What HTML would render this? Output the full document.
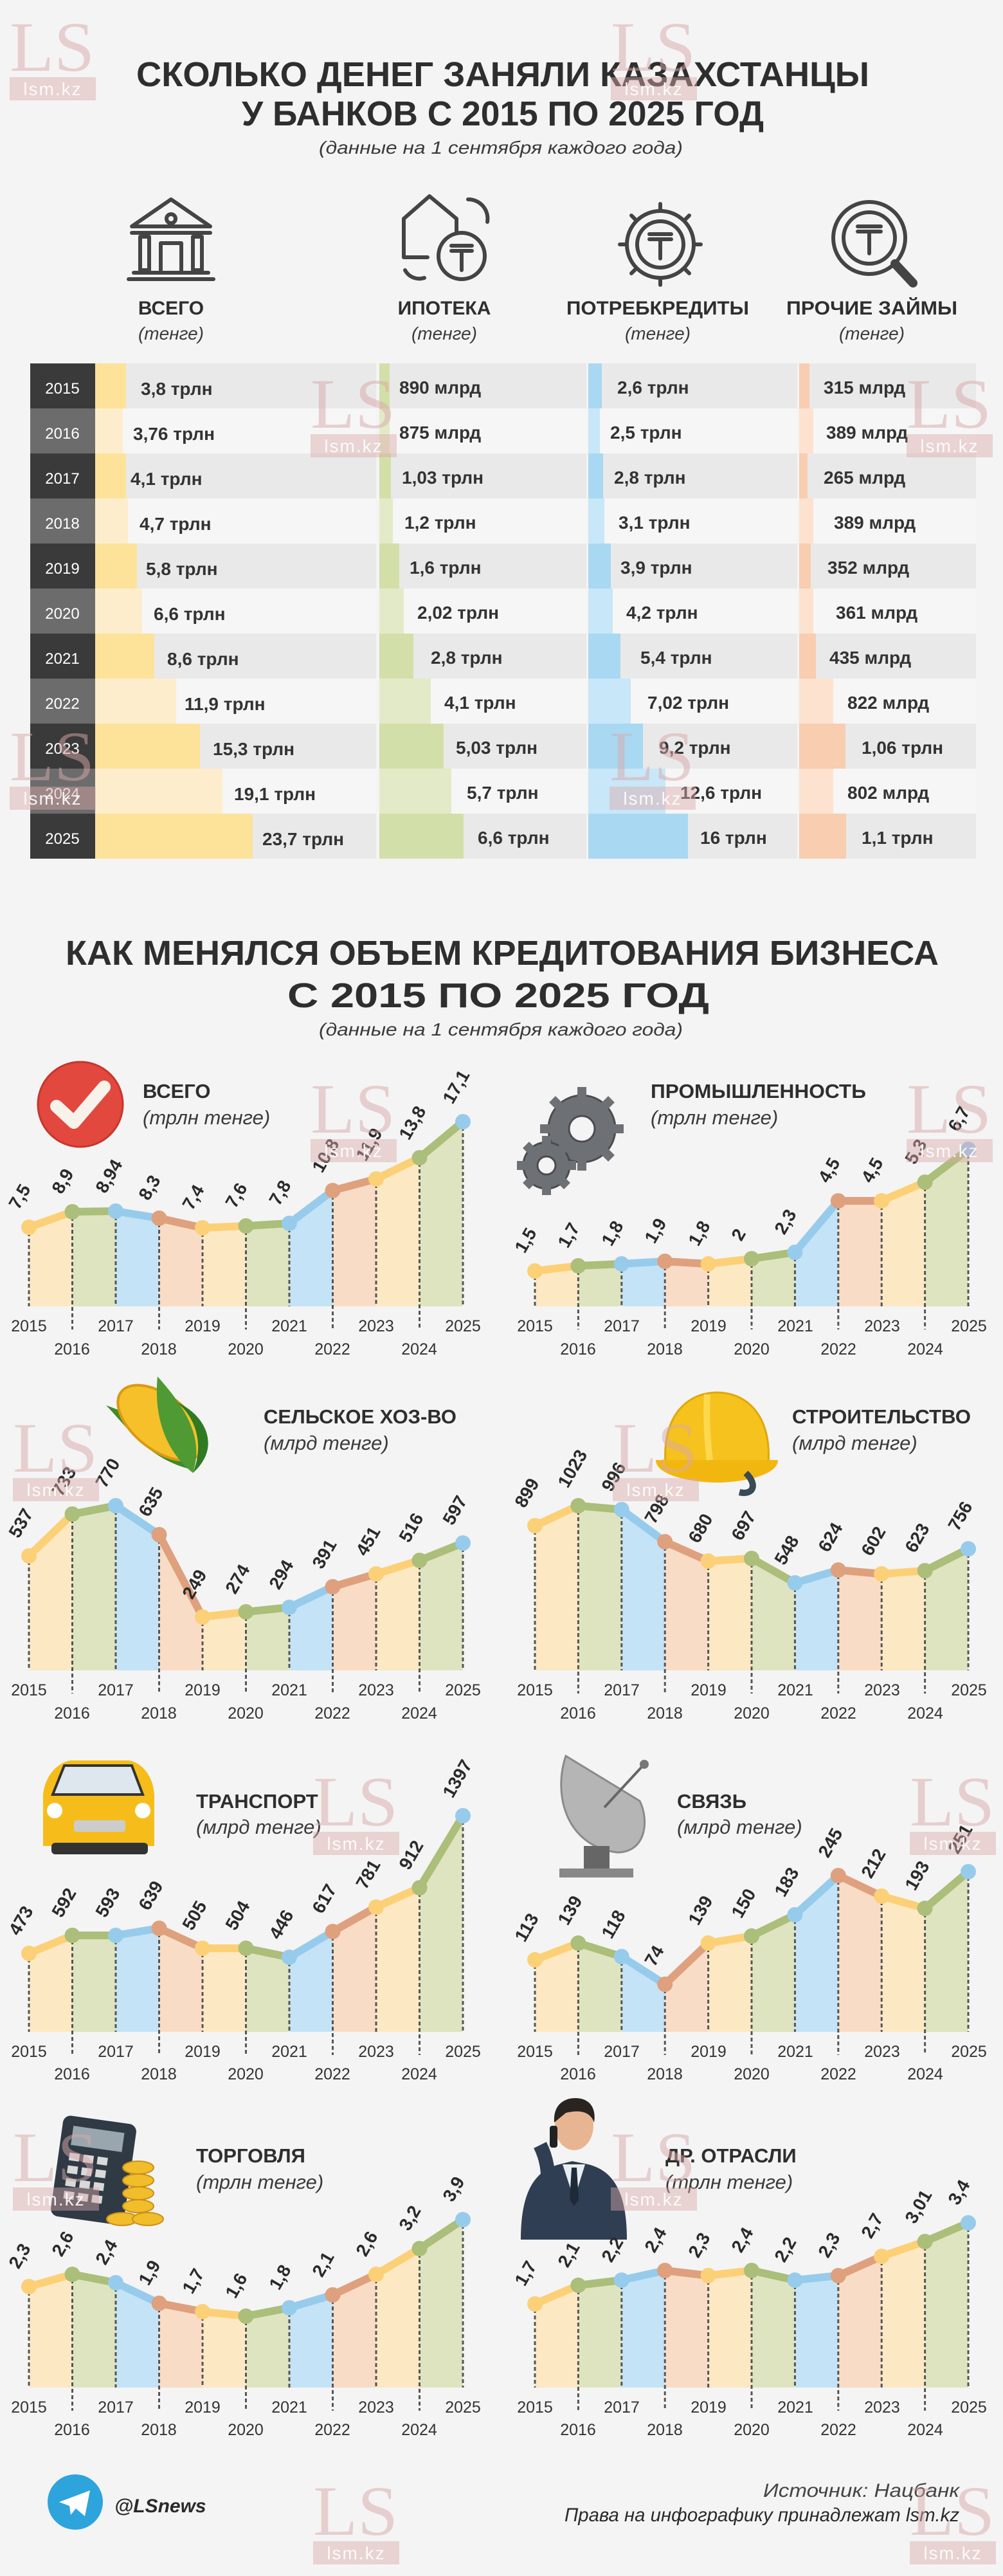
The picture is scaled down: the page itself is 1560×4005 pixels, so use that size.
<!DOCTYPE html>
<html><head><meta charset="utf-8">
<style>
html,body{margin:0;padding:0;background:#f4f4f4;}
svg{display:block;font-family:"Liberation Sans","DejaVu Sans",sans-serif;}
.t{font-weight:bold;fill:#2e2e2e;}
.it{font-style:italic;fill:#3a3a3a;}
.yr{font-size:25px;fill:#333;}
.lb{font-size:28px;font-weight:bold;fill:#2a2a2a;}
.tv{font-size:28px;font-weight:bold;fill:#333;}
.ty{font-size:24px;fill:#fff;}
.wmL{font-family:"Liberation Serif",serif;font-size:110px;fill:#d9a9a9;opacity:.5;}
.wmS{font-size:28px;fill:#fff;opacity:.9;letter-spacing:2px;}
.ic{fill:none;stroke:#444;stroke-width:6;stroke-linejoin:round;stroke-linecap:round;}
</style></head><body>
<svg id="s" width="1560" height="4005" viewBox="0 0 1560 4005" xmlns="http://www.w3.org/2000/svg">
<rect width="1560" height="4005" fill="#f4f4f4"/>

<text class="t" x="782" y="134" font-size="54" text-anchor="middle" textLength="1140" lengthAdjust="spacingAndGlyphs">СКОЛЬКО ДЕНЕГ ЗАНЯЛИ КАЗАХСТАНЦЫ</text>
<text class="t" x="782" y="195" font-size="54" text-anchor="middle" textLength="812" lengthAdjust="spacingAndGlyphs">У БАНКОВ С 2015 ПО 2025 ГОД</text>
<text class="it" x="779" y="239" font-size="28" text-anchor="middle" textLength="566" lengthAdjust="spacingAndGlyphs">(данные на 1 сентября каждого года)</text>

<g class="ic">
 <path d="M205 352 L266 310 L327 352 Z"/><line x1="205" y1="362" x2="327" y2="362"/>
 <circle cx="266" cy="340" r="7"/>
 <rect x="218" y="368" width="14" height="52"/><rect x="300" y="368" width="14" height="52"/>
 <path d="M250 420 V378 H282 V420"/>
 <line x1="208" y1="424" x2="324" y2="424"/><line x1="200" y1="434" x2="332" y2="434"/>
</g>
<g class="ic">
 <path d="M628 370 V340 L668 305 L710 340 V360"/><path d="M628 370 V400 H665"/>
 <circle cx="718" cy="398" r="36"/><path d="M702 382 H734 M702 390 H734 M718 390 V420"/>
 <path d="M728 310 A30 30 0 0 1 758 345"/><path d="M630 420 A25 25 0 0 0 660 432"/>
</g>
<g class="ic">
 <circle cx="1027" cy="380" r="52"/><circle cx="1027" cy="380" r="36"/>
 <path d="M1010 364 H1044 M1010 372 H1044 M1027 372 V402"/>
 <path d="M1027 317 V328 M1027 432 V443 M964 380 H975 M1079 380 H1090 M982 335 L990 343 M1064 417 L1072 425 M1072 335 L1064 343 M990 417 L982 425"/>
</g>
<g class="ic">
 <circle cx="1352" cy="370" r="56"/><circle cx="1352" cy="370" r="40"/>
 <path d="M1334 352 H1370 M1334 360 H1370 M1352 360 V394"/>
 <path d="M1392 410 L1420 440" stroke-width="14"/>
</g>
<g class="t" font-size="30" text-anchor="middle">
 <text x="266" y="489">ВСЕГО</text><text x="691" y="489">ИПОТЕКА</text>
 <text x="1023" y="489" textLength="284" lengthAdjust="spacingAndGlyphs">ПОТРЕБКРЕДИТЫ</text>
 <text x="1356" y="489" textLength="266" lengthAdjust="spacingAndGlyphs">ПРОЧИЕ ЗАЙМЫ</text>
</g>
<g class="it" font-size="28" text-anchor="middle">
 <text x="266" y="528">(тенге)</text><text x="691" y="528">(тенге)</text><text x="1023" y="528">(тенге)</text><text x="1356" y="528">(тенге)</text>
</g>

<g id="table"></g>
<g id="tabletext">
 <g class="ty" text-anchor="middle">
  <text x="97" y="612">2015</text><text x="97" y="682">2016</text><text x="97" y="752">2017</text><text x="97" y="822">2018</text><text x="97" y="892">2019</text><text x="97" y="962">2020</text><text x="97" y="1032">2021</text><text x="97" y="1102">2022</text><text x="97" y="1172">2023</text><text x="97" y="1242">2024</text><text x="97" y="1312">2025</text>
 </g>
 <g class="tv">
  <text x="219" y="614">3,8 трлн</text><text x="207" y="684">3,76 трлн</text><text x="203" y="754">4,1 трлн</text><text x="217" y="824">4,7 трлн</text><text x="227" y="894">5,8 трлн</text><text x="239" y="964">6,6 трлн</text><text x="260" y="1034">8,6 трлн</text><text x="287" y="1104">11,9 трлн</text><text x="331" y="1174">15,3 трлн</text><text x="364" y="1244">19,1 трлн</text><text x="408" y="1314">23,7 трлн</text>
  <text x="621" y="612">890 млрд</text><text x="621" y="682">875 млрд</text><text x="625" y="752">1,03 трлн</text><text x="629" y="822">1,2 трлн</text><text x="637" y="892">1,6 трлн</text><text x="649" y="962">2,02 трлн</text><text x="670" y="1032">2,8 трлн</text><text x="691" y="1102">4,1 трлн</text><text x="709" y="1172">5,03 трлн</text><text x="726" y="1242">5,7 трлн</text><text x="743" y="1312">6,6 трлн</text>
  <text x="960" y="612">2,6 трлн</text><text x="949" y="682">2,5 трлн</text><text x="955" y="752">2,8 трлн</text><text x="962" y="822">3,1 трлн</text><text x="965" y="892">3,9 трлн</text><text x="974" y="962">4,2 трлн</text><text x="996" y="1032">5,4 трлн</text><text x="1007" y="1102">7,02 трлн</text><text x="1025" y="1172">9,2 трлн</text><text x="1058" y="1242">12,6 трлн</text><text x="1089" y="1312">16 трлн</text>
  <text x="1281" y="612">315 млрд</text><text x="1285" y="682">389 млрд</text><text x="1281" y="752">265 млрд</text><text x="1297" y="822">389 млрд</text><text x="1287" y="892">352 млрд</text><text x="1300" y="962">361 млрд</text><text x="1290" y="1032">435 млрд</text><text x="1318" y="1102">822 млрд</text><text x="1340" y="1172">1,06 трлн</text><text x="1318" y="1242">802 млрд</text><text x="1340" y="1312">1,1 трлн</text>
 </g>
</g>

<text class="t" x="781" y="1500" font-size="54" text-anchor="middle" textLength="1358" lengthAdjust="spacingAndGlyphs">КАК МЕНЯЛСЯ ОБЪЕМ КРЕДИТОВАНИЯ БИЗНЕСА</text>
<text class="t" x="775" y="1566" font-size="54" text-anchor="middle" textLength="656" lengthAdjust="spacingAndGlyphs">С 2015 ПО 2025 ГОД</text>
<text class="it" x="779" y="1610" font-size="28" text-anchor="middle" textLength="566" lengthAdjust="spacingAndGlyphs">(данные на 1 сентября каждого года)</text>

<g id="charts"></g>

<circle cx="125" cy="1717" r="66" fill="#e2483d"/><circle cx="125" cy="1717" r="66" fill="none" stroke="#c7362d" stroke-width="3"/>
<path d="M88 1720 L115 1745 L162 1690" fill="none" stroke="#f7f2ea" stroke-width="20" stroke-linecap="round" stroke-linejoin="round"/>

<g fill="#6d7074" stroke="#4a4c50" stroke-width="3">
 <circle cx="905" cy="1755" r="52"/><circle cx="850" cy="1812" r="36"/>
 <g stroke-width="14" stroke-linecap="butt" stroke="#6d7074">
  <path d="M905 1690 V1820 M840 1755 H970 M859 1709 L951 1801 M951 1709 L859 1801"/>
  <path d="M850 1766 V1858 M804 1812 H896 M818 1780 L882 1844 M882 1780 L818 1844"/>
 </g>
 <circle cx="905" cy="1755" r="20" fill="#f4f4f4"/><circle cx="850" cy="1812" r="14" fill="#f4f4f4"/>
</g>

<g>
 <path d="M300 2285 C230 2270 195 2215 165 2185 C210 2200 260 2230 300 2285Z" fill="#3f8a2a"/>
 <ellipse cx="250" cy="2212" rx="78" ry="42" transform="rotate(38 250 2212)" fill="#f5c02a" stroke="#d99a10" stroke-width="4"/>
 <path d="M300 2290 C250 2250 240 2190 245 2140 C280 2180 320 2230 300 2290Z" fill="#4f9a33"/>
 <path d="M300 2290 C320 2240 300 2200 275 2180 C320 2200 345 2250 300 2290Z" fill="#2f7a22"/>
</g>

<g>
 <path d="M1035 2275 C1030 2200 1070 2165 1115 2165 C1165 2165 1200 2205 1195 2275 Z" fill="#f6c21d" stroke="#e0a80a" stroke-width="3"/>
 <path d="M1020 2270 H1210 C1210 2295 1150 2305 1115 2305 C1080 2305 1020 2295 1020 2270Z" fill="#f2b70f"/>
 <path d="M1100 2168 C1098 2200 1100 2240 1104 2270" stroke="#ffd84d" stroke-width="10" fill="none"/>
 <path d="M1160 2290 C1180 2310 1170 2325 1150 2320" stroke="#3a4a55" stroke-width="10" fill="none"/>
</g>

<g>
 <path d="M67 2790 C70 2760 90 2740 110 2737 H200 C220 2740 238 2760 240 2790 V2870 H67 Z" fill="#f6bd1a"/>
 <path d="M100 2745 H205 L222 2790 H82 Z" fill="#dfe7ee" stroke="#333" stroke-width="4"/>
 <rect x="115" y="2830" width="80" height="18" rx="4" fill="#ccc"/>
 <rect x="80" y="2865" width="150" height="18" rx="6" fill="#333"/>
 <circle cx="85" cy="2815" r="12" fill="#fff"/><circle cx="222" cy="2815" r="12" fill="#fff"/>
</g>

<g>
 <path d="M880 2730 C860 2790 880 2870 960 2880 C1005 2880 1010 2830 995 2800 Z" fill="#b5b5b5" stroke="#8a8a8a" stroke-width="3"/>
 <line x1="940" y1="2810" x2="1000" y2="2745" stroke="#666" stroke-width="4"/><circle cx="1002" cy="2743" r="7" fill="#777"/>
 <rect x="908" y="2870" width="40" height="45" fill="#666"/><rect x="870" y="2905" width="115" height="14" fill="#888"/>
</g>

<g>
 <rect x="88" y="3295" width="115" height="158" rx="12" fill="#2f3a45" transform="rotate(8 145 3374)"/>
 <rect x="105" y="3310" width="80" height="30" fill="#9aa6ad" transform="rotate(8 145 3374)"/>
 <g fill="#d9d9d9" transform="rotate(8 145 3374)">
  <rect x="105" y="3352" width="16" height="12"/><rect x="127" y="3352" width="16" height="12"/><rect x="149" y="3352" width="16" height="12"/>
  <rect x="105" y="3372" width="16" height="12"/><rect x="127" y="3372" width="16" height="12"/><rect x="149" y="3372" width="16" height="12"/>
  <rect x="105" y="3392" width="16" height="12"/><rect x="127" y="3392" width="16" height="12"/><rect x="149" y="3392" width="16" height="12"/>
  <rect x="105" y="3412" width="16" height="12"/><rect x="127" y="3412" width="16" height="12"/><rect x="149" y="3412" width="16" height="12"/>
 </g>
 <g fill="#f2bd2a" stroke="#c9901a" stroke-width="2">
  <ellipse cx="190" cy="3450" rx="24" ry="10"/><ellipse cx="215" cy="3430" rx="24" ry="10"/><ellipse cx="215" cy="3410" rx="24" ry="10"/><ellipse cx="215" cy="3390" rx="24" ry="10"/><ellipse cx="215" cy="3370" rx="24" ry="10"/><ellipse cx="230" cy="3450" rx="24" ry="10"/>
 </g>
</g>

<g>
 <path d="M810 3482 C810 3410 830 3375 870 3365 L890 3360 L915 3365 C955 3375 975 3410 975 3482 Z" fill="#2f3e52"/>
 <path d="M875 3365 L893 3420 L910 3365 Z" fill="#e8eef2"/><path d="M889 3370 L897 3370 L900 3420 L893 3430 L886 3420 Z" fill="#1f2a38"/>
 <ellipse cx="893" cy="3305" rx="30" ry="38" fill="#e8b592"/>
 <path d="M862 3300 C860 3270 880 3262 895 3262 C915 3262 928 3275 924 3300 C918 3282 900 3280 880 3285 Z" fill="#2a2420"/>
 <rect x="855" y="3305" width="12" height="34" rx="4" fill="#222"/>
 <path d="M840 3335 C850 3355 855 3380 850 3400" stroke="#2f3e52" stroke-width="22" fill="none"/>
</g>

<circle cx="117" cy="3890" r="43" fill="#2ea4dd"/>
<path d="M92 3890 L140 3872 L132 3912 L118 3900 L110 3910 L108 3896 Z" fill="#fff"/>
<text x="178" y="3906" font-size="30" font-weight="bold" font-style="italic" fill="#2a2a2a">@LSnews</text>
<text x="1492" y="3882" font-size="30" font-style="italic" fill="#444" text-anchor="end" textLength="305" lengthAdjust="spacingAndGlyphs">Источник: Нацбанк</text>
<text x="1492" y="3920" font-size="30" font-style="italic" fill="#2a2a2a" text-anchor="end" textLength="614" lengthAdjust="spacingAndGlyphs">Права на инфографику принадлежат lsm.kz</text>

<g font-size="31">
 <text class="t" x="222" y="1707">ВСЕГО</text><text class="it" x="222" y="1748">(трлн тенге)</text>
 <text class="t" x="1012" y="1707" textLength="335" lengthAdjust="spacingAndGlyphs">ПРОМЫШЛЕННОСТЬ</text><text class="it" x="1012" y="1748">(трлн тенге)</text>
 <text class="t" x="410" y="2213" textLength="300" lengthAdjust="spacingAndGlyphs">СЕЛЬСКОЕ ХОЗ-ВО</text><text class="it" x="410" y="2254">(млрд тенге)</text>
 <text class="t" x="1232" y="2213" textLength="278" lengthAdjust="spacingAndGlyphs">СТРОИТЕЛЬСТВО</text><text class="it" x="1232" y="2254">(млрд тенге)</text>
 <text class="t" x="305" y="2811">ТРАНСПОРТ</text><text class="it" x="305" y="2851">(млрд тенге)</text>
 <text class="t" x="1053" y="2811">СВЯЗЬ</text><text class="it" x="1053" y="2851">(млрд тенге)</text>
 <text class="t" x="305" y="3362">ТОРГОВЛЯ</text><text class="it" x="305" y="3403">(трлн тенге)</text>
 <text class="t" x="1035" y="3362">ДР. ОТРАСЛИ</text><text class="it" x="1035" y="3403">(трлн тенге)</text>
</g>

<g class="yr" text-anchor="middle">
 <g transform="translate(0,2070)"><text x="45">2015</text><text x="180">2017</text><text x="315">2019</text><text x="450">2021</text><text x="585">2023</text><text x="720">2025</text><text x="112" y="36">2016</text><text x="247" y="36">2018</text><text x="382" y="36">2020</text><text x="517" y="36">2022</text><text x="652" y="36">2024</text></g>
 <g transform="translate(787,2070)"><text x="45">2015</text><text x="180">2017</text><text x="315">2019</text><text x="450">2021</text><text x="585">2023</text><text x="720">2025</text><text x="112" y="36">2016</text><text x="247" y="36">2018</text><text x="382" y="36">2020</text><text x="517" y="36">2022</text><text x="652" y="36">2024</text></g>
 <g transform="translate(0,2636)"><text x="45">2015</text><text x="180">2017</text><text x="315">2019</text><text x="450">2021</text><text x="585">2023</text><text x="720">2025</text><text x="112" y="36">2016</text><text x="247" y="36">2018</text><text x="382" y="36">2020</text><text x="517" y="36">2022</text><text x="652" y="36">2024</text></g>
 <g transform="translate(787,2636)"><text x="45">2015</text><text x="180">2017</text><text x="315">2019</text><text x="450">2021</text><text x="585">2023</text><text x="720">2025</text><text x="112" y="36">2016</text><text x="247" y="36">2018</text><text x="382" y="36">2020</text><text x="517" y="36">2022</text><text x="652" y="36">2024</text></g>
 <g transform="translate(0,3198)"><text x="45">2015</text><text x="180">2017</text><text x="315">2019</text><text x="450">2021</text><text x="585">2023</text><text x="720">2025</text><text x="112" y="35">2016</text><text x="247" y="35">2018</text><text x="382" y="35">2020</text><text x="517" y="35">2022</text><text x="652" y="35">2024</text></g>
 <g transform="translate(787,3198)"><text x="45">2015</text><text x="180">2017</text><text x="315">2019</text><text x="450">2021</text><text x="585">2023</text><text x="720">2025</text><text x="112" y="35">2016</text><text x="247" y="35">2018</text><text x="382" y="35">2020</text><text x="517" y="35">2022</text><text x="652" y="35">2024</text></g>
 <g transform="translate(0,3751)"><text x="45">2015</text><text x="180">2017</text><text x="315">2019</text><text x="450">2021</text><text x="585">2023</text><text x="720">2025</text><text x="112" y="35">2016</text><text x="247" y="35">2018</text><text x="382" y="35">2020</text><text x="517" y="35">2022</text><text x="652" y="35">2024</text></g>
 <g transform="translate(787,3751)"><text x="45">2015</text><text x="180">2017</text><text x="315">2019</text><text x="450">2021</text><text x="585">2023</text><text x="720">2025</text><text x="112" y="35">2016</text><text x="247" y="35">2018</text><text x="382" y="35">2020</text><text x="517" y="35">2022</text><text x="652" y="35">2024</text></g>
</g>

<g class="lb">
 <text transform="translate(29 1882) rotate(-60)">7,5</text><text transform="translate(96 1858) rotate(-60)">8,9</text><text transform="translate(164 1857) rotate(-60)">8,94</text><text transform="translate(231 1868) rotate(-60)">8,3</text><text transform="translate(299 1883) rotate(-60)">7,4</text><text transform="translate(366 1880) rotate(-60)">7,6</text><text transform="translate(434 1876) rotate(-60)">7,8</text><text transform="translate(501 1825) rotate(-60)">10,8</text><text transform="translate(569 1807) rotate(-60)">11,9</text><text transform="translate(636 1774) rotate(-60)">13,8</text><text transform="translate(704 1718) rotate(-60)">17,1</text>
 <text transform="translate(816 1950) rotate(-60)">1,5</text><text transform="translate(883 1942) rotate(-60)">1,7</text><text transform="translate(951 1939) rotate(-60)">1,8</text><text transform="translate(1018 1935) rotate(-60)">1,9</text><text transform="translate(1086 1939) rotate(-60)">1,8</text><text transform="translate(1153 1931) rotate(-60)">2</text><text transform="translate(1220 1921) rotate(-60)">2,3</text><text transform="translate(1288 1841) rotate(-60)">4,5</text><text transform="translate(1355 1841) rotate(-60)">4,5</text><text transform="translate(1423 1812) rotate(-60)">5,3</text><text transform="translate(1490 1761) rotate(-60)">6,7</text>
 <text transform="translate(29 2393) rotate(-60)">537</text><text transform="translate(96 2328) rotate(-60)">733</text><text transform="translate(164 2315) rotate(-60)">770</text><text transform="translate(231 2360) rotate(-60)">635</text><text transform="translate(299 2488) rotate(-60)">249</text><text transform="translate(366 2480) rotate(-60)">274</text><text transform="translate(434 2473) rotate(-60)">294</text><text transform="translate(501 2441) rotate(-60)">391</text><text transform="translate(569 2421) rotate(-60)">451</text><text transform="translate(636 2400) rotate(-60)">516</text><text transform="translate(704 2373) rotate(-60)">597</text>
 <text transform="translate(816 2346) rotate(-60)">899</text><text transform="translate(883 2315) rotate(-60)">1023</text><text transform="translate(951 2321) rotate(-60)">996</text><text transform="translate(1018 2371) rotate(-60)">798</text><text transform="translate(1086 2401) rotate(-60)">680</text><text transform="translate(1153 2397) rotate(-60)">697</text><text transform="translate(1220 2435) rotate(-60)">548</text><text transform="translate(1288 2415) rotate(-60)">624</text><text transform="translate(1355 2421) rotate(-60)">602</text><text transform="translate(1423 2416) rotate(-60)">623</text><text transform="translate(1490 2382) rotate(-60)">756</text>
 <text transform="translate(29 3011) rotate(-60)">473</text><text transform="translate(96 2983) rotate(-60)">592</text><text transform="translate(164 2983) rotate(-60)">593</text><text transform="translate(231 2972) rotate(-60)">639</text><text transform="translate(299 3003) rotate(-60)">505</text><text transform="translate(366 3003) rotate(-60)">504</text><text transform="translate(434 3017) rotate(-60)">446</text><text transform="translate(501 2977) rotate(-60)">617</text><text transform="translate(569 2939) rotate(-60)">781</text><text transform="translate(636 2909) rotate(-60)">912</text><text transform="translate(704 2797) rotate(-60)">1397</text>
 <text transform="translate(816 3021) rotate(-60)">113</text><text transform="translate(883 2995) rotate(-60)">139</text><text transform="translate(951 3016) rotate(-60)">118</text><text transform="translate(1018 3059) rotate(-60)">74</text><text transform="translate(1086 2995) rotate(-60)">139</text><text transform="translate(1153 2984) rotate(-60)">150</text><text transform="translate(1220 2951) rotate(-60)">183</text><text transform="translate(1288 2890) rotate(-60)">245</text><text transform="translate(1355 2922) rotate(-60)">212</text><text transform="translate(1423 2941) rotate(-60)">193</text><text transform="translate(1490 2884) rotate(-60)">251</text>
 <text transform="translate(29 3529) rotate(-60)">2,3</text><text transform="translate(96 3510) rotate(-60)">2,6</text><text transform="translate(164 3523) rotate(-60)">2,4</text><text transform="translate(231 3555) rotate(-60)">1,9</text><text transform="translate(299 3568) rotate(-60)">1,7</text><text transform="translate(366 3575) rotate(-60)">1,6</text><text transform="translate(434 3562) rotate(-60)">1,8</text><text transform="translate(501 3542) rotate(-60)">2,1</text><text transform="translate(569 3510) rotate(-60)">2,6</text><text transform="translate(636 3470) rotate(-60)">3,2</text><text transform="translate(704 3425) rotate(-60)">3,9</text>
 <text transform="translate(816 3556) rotate(-60)">1,7</text><text transform="translate(883 3527) rotate(-60)">2,1</text><text transform="translate(951 3519) rotate(-60)">2,2</text><text transform="translate(1018 3504) rotate(-60)">2,4</text><text transform="translate(1086 3512) rotate(-60)">2,3</text><text transform="translate(1153 3504) rotate(-60)">2,4</text><text transform="translate(1220 3519) rotate(-60)">2,2</text><text transform="translate(1288 3512) rotate(-60)">2,3</text><text transform="translate(1355 3482) rotate(-60)">2,7</text><text transform="translate(1423 3459) rotate(-60)">3,01</text><text transform="translate(1490 3430) rotate(-60)">3,4</text>
</g>

<g>
 <g transform="translate(15,22)"><text class="wmL" x="0" y="88" textLength="132" lengthAdjust="spacingAndGlyphs">LS</text><rect x="0" y="98" width="134" height="36" fill="#d9a9a9" opacity=".45"/><text class="wmS" x="67" y="126" text-anchor="middle">lsm.kz</text></g>
 <g transform="translate(950,22)"><text class="wmL" x="0" y="88" textLength="132" lengthAdjust="spacingAndGlyphs">LS</text><rect x="0" y="98" width="134" height="36" fill="#d9a9a9" opacity=".45"/><text class="wmS" x="67" y="126" text-anchor="middle">lsm.kz</text></g>
 <g transform="translate(483,577)"><text class="wmL" x="0" y="88" textLength="132" lengthAdjust="spacingAndGlyphs">LS</text><rect x="0" y="98" width="134" height="36" fill="#d9a9a9" opacity=".45"/><text class="wmS" x="67" y="126" text-anchor="middle">lsm.kz</text></g>
 <g transform="translate(1410,577)"><text class="wmL" x="0" y="88" textLength="132" lengthAdjust="spacingAndGlyphs">LS</text><rect x="0" y="98" width="134" height="36" fill="#d9a9a9" opacity=".45"/><text class="wmS" x="67" y="126" text-anchor="middle">lsm.kz</text></g>
 <g transform="translate(15,1125)"><text class="wmL" x="0" y="88" textLength="132" lengthAdjust="spacingAndGlyphs">LS</text><rect x="0" y="98" width="134" height="36" fill="#d9a9a9" opacity=".45"/><text class="wmS" x="67" y="126" text-anchor="middle">lsm.kz</text></g>
 <g transform="translate(948,1125)"><text class="wmL" x="0" y="88" textLength="132" lengthAdjust="spacingAndGlyphs">LS</text><rect x="0" y="98" width="134" height="36" fill="#d9a9a9" opacity=".45"/><text class="wmS" x="67" y="126" text-anchor="middle">lsm.kz</text></g>
 <g transform="translate(483,1673)"><text class="wmL" x="0" y="88" textLength="132" lengthAdjust="spacingAndGlyphs">LS</text><rect x="0" y="98" width="134" height="36" fill="#d9a9a9" opacity=".45"/><text class="wmS" x="67" y="126" text-anchor="middle">lsm.kz</text></g>
 <g transform="translate(1410,1673)"><text class="wmL" x="0" y="88" textLength="132" lengthAdjust="spacingAndGlyphs">LS</text><rect x="0" y="98" width="134" height="36" fill="#d9a9a9" opacity=".45"/><text class="wmS" x="67" y="126" text-anchor="middle">lsm.kz</text></g>
 <g transform="translate(20,2200)"><text class="wmL" x="0" y="88" textLength="132" lengthAdjust="spacingAndGlyphs">LS</text><rect x="0" y="98" width="134" height="36" fill="#d9a9a9" opacity=".45"/><text class="wmS" x="67" y="126" text-anchor="middle">lsm.kz</text></g>
 <g transform="translate(953,2200)"><text class="wmL" x="0" y="88" textLength="132" lengthAdjust="spacingAndGlyphs">LS</text><rect x="0" y="98" width="134" height="36" fill="#d9a9a9" opacity=".45"/><text class="wmS" x="67" y="126" text-anchor="middle">lsm.kz</text></g>
 <g transform="translate(487,2750)"><text class="wmL" x="0" y="88" textLength="132" lengthAdjust="spacingAndGlyphs">LS</text><rect x="0" y="98" width="134" height="36" fill="#d9a9a9" opacity=".45"/><text class="wmS" x="67" y="126" text-anchor="middle">lsm.kz</text></g>
 <g transform="translate(1415,2750)"><text class="wmL" x="0" y="88" textLength="132" lengthAdjust="spacingAndGlyphs">LS</text><rect x="0" y="98" width="134" height="36" fill="#d9a9a9" opacity=".45"/><text class="wmS" x="67" y="126" text-anchor="middle">lsm.kz</text></g>
 <g transform="translate(20,3303)"><text class="wmL" x="0" y="88" textLength="132" lengthAdjust="spacingAndGlyphs">LS</text><rect x="0" y="98" width="134" height="36" fill="#d9a9a9" opacity=".45"/><text class="wmS" x="67" y="126" text-anchor="middle">lsm.kz</text></g>
 <g transform="translate(950,3303)"><text class="wmL" x="0" y="88" textLength="132" lengthAdjust="spacingAndGlyphs">LS</text><rect x="0" y="98" width="134" height="36" fill="#d9a9a9" opacity=".45"/><text class="wmS" x="67" y="126" text-anchor="middle">lsm.kz</text></g>
 <g transform="translate(487,3853)"><text class="wmL" x="0" y="88" textLength="132" lengthAdjust="spacingAndGlyphs">LS</text><rect x="0" y="98" width="134" height="36" fill="#d9a9a9" opacity=".45"/><text class="wmS" x="67" y="126" text-anchor="middle">lsm.kz</text></g>
 <g transform="translate(1415,3853)"><text class="wmL" x="0" y="88" textLength="132" lengthAdjust="spacingAndGlyphs">LS</text><rect x="0" y="98" width="134" height="36" fill="#d9a9a9" opacity=".45"/><text class="wmS" x="67" y="126" text-anchor="middle">lsm.kz</text></g>
</g>
</svg>
<script>
(function(){
var NS="http://www.w3.org/2000/svg";
function el(p,n,a){var e=document.createElementNS(NS,n);for(var k in a)e.setAttribute(k,a[k]);p.appendChild(e);return e;}
var T=document.getElementById("table");
var cols=[[148,585,["#fde29a","#feedcc"],[196,191,196,199,213,221,240,274,311,346,393]],
[590,912,["#d3dfa8","#e3eac8"],[606,606,608,611,621,628,643,670,690,702,721]],
[915,1240,["#a9d8f3","#c8e7f8"],[936,933,938,940,950,953,965,981,1000,1035,1070]],
[1243,1518,["#f8cdb0","#fde2cf"],[1259,1265,1256,1265,1261,1265,1269,1296,1315,1296,1316]]];
for(var i=0;i<11;i++){
 var y=565+70*i;
 el(T,"rect",{x:47,y:y,width:101,height:70,fill:i%2?"#6c6c6c":"#3a3a3a"});
 cols.forEach(function(c){
  el(T,"rect",{x:c[0],y:y,width:c[1]-c[0],height:70,fill:i%2?"#f6f6f6":"#e9e9e9"});
  el(T,"rect",{x:c[0],y:y,width:c[3][i]-c[0],height:70,fill:c[2][i%2]});
 });
}
var C=document.getElementById("charts");
var L=[45,112.5,180,247.5,315,382.5,450,517.5,585,652.5,720];
var R=[832,899.4,966.8,1034.2,1101.6,1169,1236.4,1303.8,1371.2,1438.6,1506];
var data=[
[L,2031,[1908,1884,1883,1894,1909,1906,1902,1851,1833,1800,1744]],
[R,2031,[1976,1968,1965,1961,1965,1957,1947,1867,1867,1838,1787]],
[L,2597,[2419,2354,2341,2386,2514,2506,2499,2467,2447,2426,2399]],
[R,2597,[2372,2341,2347,2397,2427,2423,2461,2441,2447,2442,2408]],
[L,3159,[3037,3009,3009,2998,3029,3029,3043,3003,2965,2935,2823]],
[R,3159,[3047,3021,3042,3085,3021,3010,2977,2916,2948,2967,2910]],
[L,3712,[3555,3536,3549,3581,3594,3601,3588,3568,3536,3496,3451]],
[R,3712,[3582,3553,3545,3530,3538,3530,3545,3538,3508,3485,3456]]];
var F=["#fde8c4","#dee4bf","#c4e3f6","#f9dcc6"], S=["#fcd076","#abbe7a","#97cbec","#dfa07e"];
data.forEach(function(d){
 var xs=d[0],B=d[1],ys=d[2];
 for(var i=0;i<10;i++){
  el(C,"polygon",{points:xs[i]+","+ys[i]+" "+xs[i+1]+","+ys[i+1]+" "+xs[i+1]+","+B+" "+xs[i]+","+B,fill:F[i%4]});
 }
 for(var i=0;i<11;i++){
  el(C,"line",{x1:xs[i],y1:ys[i]+8,x2:xs[i],y2:B+(i%2?36:0),stroke:"#555","stroke-width":3,"stroke-dasharray":"6 4"});
 }
 for(var i=0;i<10;i++){
  el(C,"line",{x1:xs[i],y1:ys[i],x2:xs[i+1],y2:ys[i+1],stroke:S[i%4],"stroke-width":12,"stroke-linecap":"round"});
 }
 for(var i=0;i<11;i++){
  el(C,"circle",{cx:xs[i],cy:ys[i],r:12,fill:i==10?S[2]:S[i%4]});
 }
});
})();
</script>
</body></html>
